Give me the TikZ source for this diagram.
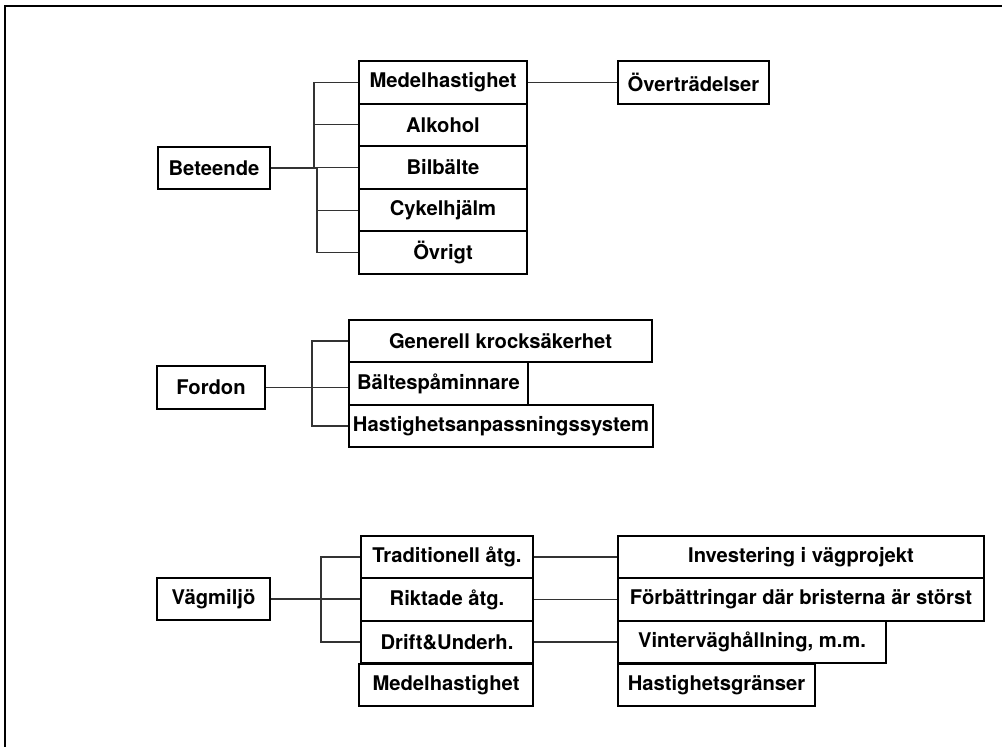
\documentclass[tikz,border=0pt]{standalone}
\usepackage{fontspec}
\setmainfont{TeX Gyre Heros}
\tikzset{
    box/.style={draw=black, line width=1.1pt, inner sep=0pt, minimum height=0.85cm,
        font=\fontsize{11.5}{13}\selectfont\bfseries},
    conn/.style={draw=black!80, line width=0.6pt}
}
\begin{document}
\begin{tikzpicture}[x=0.02cm, y=-0.02cm]
                \useasboundingbox (0,0) rectangle (1002,747);
                \draw[line width=1.2pt] (5,747) |- (1002,6);

                % Beteende
                \node[box,minimum width=2.24cm] (bet) at (214,168) {Beteende};
                \node[box,minimum width=3.36cm] (b1) at (443,82.3) {Medelhastighet};
                \node[box,minimum width=3.36cm] (b2) at (443,124.9) {Alkohol};
                \node[box,minimum width=3.36cm] (b3) at (443,167.5) {Bilbälte};
                \node[box,minimum width=3.36cm] (b4) at (443,210.1) {Cykelhjälm};
                \node[box,minimum width=3.36cm] (b5) at (443,252.7) {Övrigt};
                \node[box,minimum width=3.02cm] (b6) at (693.5,82.3) {Överträdelser};
                \coordinate (bj1) at (314,168);
                \coordinate (bj2) at (317,168);

                \path[conn] (bet.east) -- (bj2);
                \path[conn] (b1.west) -| (bj1);
                \path[conn] (b2.west) -- (b2.west -| bj1);
                \path[conn] (b3.west) -- (b3.west -| bj2);
                \path[conn] (b4.west) -- (b4.west -| bj2);
                \path[conn] (b5.west) -| (bj2);
                \path[conn] (b1.east) -- (b6.west);

                % Fordon
                \node[box,minimum width=2.16cm] (ford) at (211,387.5) {Fordon};
                \node[box,minimum width=6.06cm] (f1) at (500.5,341) {Generell krocksäkerhet};
                \node[box,minimum width=3.58cm] (f2) at (438.5,383.5) {Bältespåminnare};
                \node[box,minimum width=6.08cm] (f3) at (501,426) {Hastighetsanpassningssystem};
                \coordinate (fj) at (312,387.5);

                \path[conn] (ford.east) -- (ford.east -| f2.west);
                \path[conn] (f1.west) -| (fj);
                \path[conn] (f3.west) -| (fj);

                % Vägmiljö
                \node[box,minimum width=2.26cm] (vag) at (213.5,599) {Vägmiljö};
                \node[box,minimum width=3.44cm] (v1) at (447,557) {Traditionell åtg.};
                \node[box,minimum width=3.44cm] (v2) at (447,599.5) {Riktade åtg.};
                \node[box,minimum width=3.44cm] (v3) at (447,642) {Drift\&Underh.};
                \node[box,minimum width=3.48cm] (v4) at (446,685) {Medelhastighet};
                \node[box,minimum width=7.32cm] (r1) at (801,557) {Investering i vägprojekt};
                \node[box,minimum width=7.32cm] (r2) at (801,599.5) {Förbättringar där bristerna är störst};
                \node[box,minimum width=5.36cm] (r3) at (752,642) {Vinterväghållning, m.m.};
                \node[box,minimum width=3.94cm] (r4) at (716.5,685) {Hastighetsgränser};
                \coordinate (vj) at (321,599);

                \path[conn] (vag.east) -- (vag.east -| v2.west);
                \path[conn] (v1.west) -| (vj);
                \path[conn] (v3.west) -| (vj);
                \path[conn] (v1) -- (r1);
                \path[conn] (v2) -- (r2);
                \path[conn] (v3) -- (r3);
            \end{tikzpicture}
\end{document}
